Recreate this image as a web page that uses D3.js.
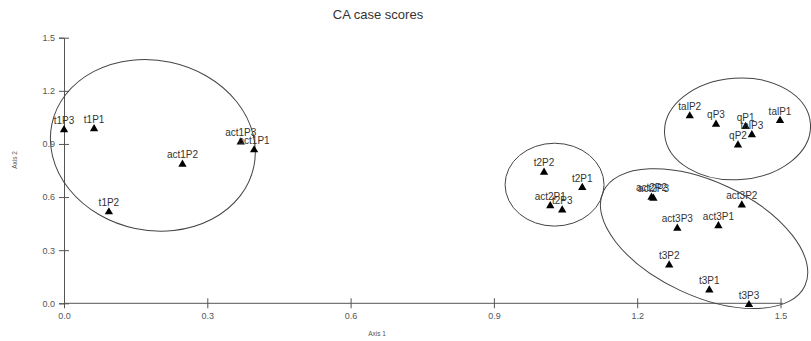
<!DOCTYPE html>
<html>
<head>
<meta charset="utf-8">
<script src="https://cdn.jsdelivr.net/npm/d3@7"></script>
<style>
  body { margin: 0; background: #fff; }
  svg text { font-family: "Liberation Sans", Arial, sans-serif; }
</style>
</head>
<body>
<div id="vis"></div>
<script>
// CA case scores — scatter of case scores with group ellipses

var labels = ['t1P3', 't1P1', 'act1P2', 'act1P3', 'act1P1', 't1P2',
              't2P2', 't2P1', 'act2P1', 't2P3',
              'talP2', 'qP3', 'qP1', 'talP3', 'qP2', 'talP1',
              'act2P2', 'act2P3', 'act3P2', 'act3P3', 'act3P1', 't3P2', 't3P1', 't3P3'];
var axis1 = [0.000, 0.063, 0.248, 0.370, 0.398, 0.094,
             1.005, 1.085, 1.018, 1.043,
             1.310, 1.365, 1.427, 1.440, 1.411, 1.499,
             1.230, 1.234, 1.419, 1.284, 1.370, 1.267, 1.351, 1.434];
var axis2 = [0.980, 0.985, 0.785, 0.910, 0.866, 0.516,
             0.740, 0.653, 0.550, 0.527,
             1.058, 1.011, 0.998, 0.951, 0.894, 1.032,
             0.598, 0.593, 0.555, 0.424, 0.437, 0.216, 0.075, -0.008];

// group ellipses (centre and radii in axis units, tilt in degrees)
var ellCx    = [0.186, 1.027, 1.340, 1.410];
var ellCy    = [0.892, 0.670, 0.365, 0.985];
var ellRx    = [0.216, 0.1036, 0.233, 0.153];
var ellRy    = [0.480, 0.234, 0.322, 0.287];
var ellAngle = [12, 0, 25, -4];

var ticks = [0, 0.3, 0.6, 0.9, 1.2, 1.5];

var W = 811, H = 341;
var svg = d3.select('#vis').append('svg').attr('width', W).attr('height', H);

var x = d3.scaleLinear().domain([0, 1.5]).range([64, 780.5]);
var y = d3.scaleLinear().domain([0, 1.5]).range([303.3, 37.7]);

var axisColor = '#555';

// x axis
var gx = svg.append('g')
  .attr('transform', `translate(0,${y(0)})`)
  .call(d3.axisBottom(x).tickValues(ticks).tickFormat(d3.format('.1f')).tickSizeOuter(0).tickSize(5));
gx.select('.domain').attr('stroke', axisColor).attr('d', `M${x(0)},0H${x(1.505)}`);
gx.selectAll('.tick line').attr('stroke', axisColor).attr('y1', -5).attr('y2', 5);
gx.selectAll('.tick text').attr('fill', '#555').attr('font-size', 9).attr('y', 9)
  .attr('font-family', '"Liberation Sans", Arial, sans-serif');

// y axis
var gy = svg.append('g')
  .attr('transform', `translate(${x(0)},0)`)
  .call(d3.axisLeft(y).tickValues(ticks).tickFormat(d3.format('.1f')).tickSizeOuter(0).tickSize(5));
gy.select('.domain').attr('stroke', axisColor);
gy.selectAll('.tick line').attr('stroke', axisColor).attr('x1', 5).attr('x2', -5);
gy.selectAll('.tick text').attr('fill', '#555').attr('font-size', 9).attr('x', -9)
  .attr('font-family', '"Liberation Sans", Arial, sans-serif');

// title and axis names
svg.append('text').attr('x', 378).attr('y', 19).attr('text-anchor', 'middle')
  .attr('font-size', 13).attr('fill', '#333').text('CA case scores');
svg.append('text').attr('x', 377).attr('y', 336).attr('text-anchor', 'middle')
  .attr('font-size', 6.5).attr('fill', '#555').text('Axis 1');
svg.append('text').attr('transform', 'translate(17,160) rotate(-90)').attr('text-anchor', 'middle')
  .attr('font-size', 6.5).attr('fill', '#555').text('Axis 2');

// ellipses
svg.append('g').selectAll('ellipse')
  .data(ellCx.map((c, i) => i))
  .join('ellipse')
  .attr('transform', i => `translate(${x(ellCx[i])},${y(ellCy[i])}) rotate(${ellAngle[i]})`)
  .attr('rx', i => x(ellRx[i]) - x(0))
  .attr('ry', i => y(0) - y(ellRy[i]))
  .attr('fill', 'none')
  .attr('stroke', '#444')
  .attr('stroke-width', 1);

// points
var pts = labels.map((l, i) => ({ label: l, a1: axis1[i], a2: axis2[i] }));
var tri = d3.symbol().type(d3.symbolTriangle).size(30);

svg.append('g').selectAll('path')
  .data(pts)
  .join('path')
  .attr('d', tri)
  .attr('transform', d => `translate(${x(d.a1)},${y(d.a2)})`)
  .attr('fill', '#000');

svg.append('g').selectAll('text')
  .data(pts)
  .join('text')
  .attr('x', d => x(d.a1))
  .attr('y', d => y(d.a2) - 6)
  .attr('text-anchor', 'middle')
  .attr('font-size', 10)
  .attr('fill', '#333')
  .text(d => d.label);
</script>
</body>
</html>
